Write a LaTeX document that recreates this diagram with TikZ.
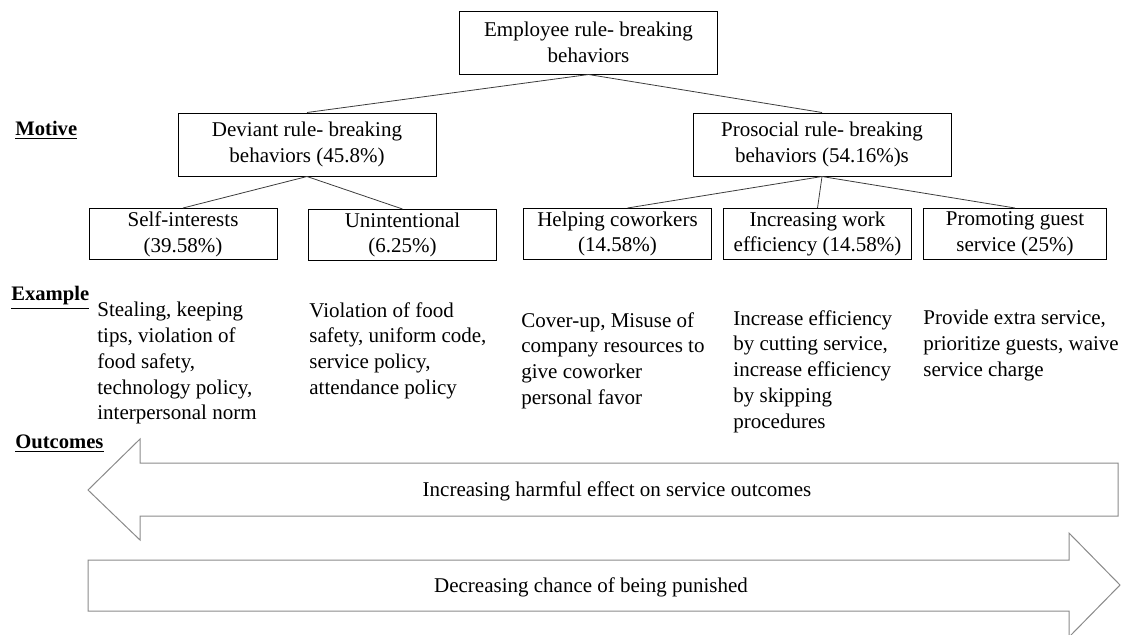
\documentclass[tikz,border=0pt]{standalone}
\usepackage{fontspec}
\setmainfont{Liberation Serif}
\usetikzlibrary{positioning}
\definecolor{arrowgrey}{HTML}{8A8A8A}
\definecolor{linkgrey}{HTML}{3C3C3C}

\begin{document}
\begin{tikzpicture}[
  x=0.5pt,y=-0.5pt,
  box/.style={draw=black,line width=0.5pt,minimum height=31.5pt,minimum width=129pt,
              align=center,font=\fontsize{10.5}{12.85}\selectfont,inner sep=1pt},
  subbox/.style={box,minimum height=25.5pt,minimum width=94pt},
  link/.style={draw=linkgrey,line width=0.4pt},
  rowlabel/.style={anchor=west,inner sep=0pt,font=\fontsize{10.3}{12}\selectfont\bfseries},
  example/.style={anchor=north west,align=left,inner sep=0pt,
                  font=\fontsize{10.5}{12.85}\selectfont},
  bigarrow/.style={draw=arrowgrey,line width=0.5pt},
]
\useasboundingbox (0,0) rectangle (1128,634);
\clip (0,0) rectangle (1128,634);

% tree
\node[box] (emp) at (588.5,42.5) {Employee rule- breaking\\behaviors};
\node[box] (dev) at (307,144.5) {Deviant rule- breaking\\behaviors (45.8\%)};
\node[box] (pro) at (822,144.5) {Prosocial rule- breaking\\behaviors (54.16\%)s};

\node[subbox] (self)  at (183,234)   {Self-interests\\(39.58\%)};
\node[subbox] (unint) at (402.5,235) {Unintentional\\(6.25\%)};
\node[subbox] (help)  at (617.5,234) {Helping coworkers\\(14.58\%)};
\node[subbox] (eff)   at (817.5,234) {Increasing work\\efficiency (14.58\%)};
\node[subbox,minimum width=91.5pt] (guest) at (1015,234) {Promoting guest\\service (25\%)};

\draw[link] (emp.south) -- (dev.north);
\draw[link] (emp.south) -- (pro.north);
\draw[link] (dev.south) -- (self.north);
\draw[link] (dev.south) -- (unint.north);
\draw[link] (pro.south) -- ([xshift=5pt]help.north);
\draw[link] (pro.south) -- (eff.north);
\draw[link] (pro.south) -- (guest.north);

% row labels
\node[rowlabel] (motive)   at (15,130) {\underline{Motive}};
\node[rowlabel] (examples) at (11,298) {\underline{Example}};
\node[rowlabel] (outcomes) at (15,444) {\underline{Outcomes}};

% examples
\node[example] (ex1) at (97,302) {Stealing, keeping\\tips, violation of\\food safety,\\technology policy,\\interpersonal norm};
\node[example] (ex2) at (309,302) {Violation of food\\safety, uniform code,\\service policy,\\attendance policy};
\node[example] (ex3) at (521,312) {Cover-up, Misuse of\\company resources to\\give coworker\\personal favor};
\node[example] (ex4) at (733,310) {Increase efficiency\\by cutting service,\\increase efficiency\\by skipping\\procedures};
\node[example] (ex5) at (923,310) {Provide extra service,\\prioritize guests, waive\\service charge};

% outcome arrows
\draw[bigarrow] (88,490) -- (140,439) -- (140,463) -- (1118,463) -- (1118,516)
  -- (140,516) -- (140,540) -- cycle;
\node[font=\fontsize{10.5}{12.85}\selectfont] (harm) at (617,491)
  {Increasing harmful effect on service outcomes};

\draw[bigarrow] (88,560) -- (1069,560) -- (1069,533) -- (1120,585) -- (1069,637)
  -- (1069,611) -- (88,611) -- cycle;
\node[font=\fontsize{10.5}{12.85}\selectfont] (punish) at (591,587)
  {Decreasing chance of being punished};
\end{tikzpicture}
\end{document}
